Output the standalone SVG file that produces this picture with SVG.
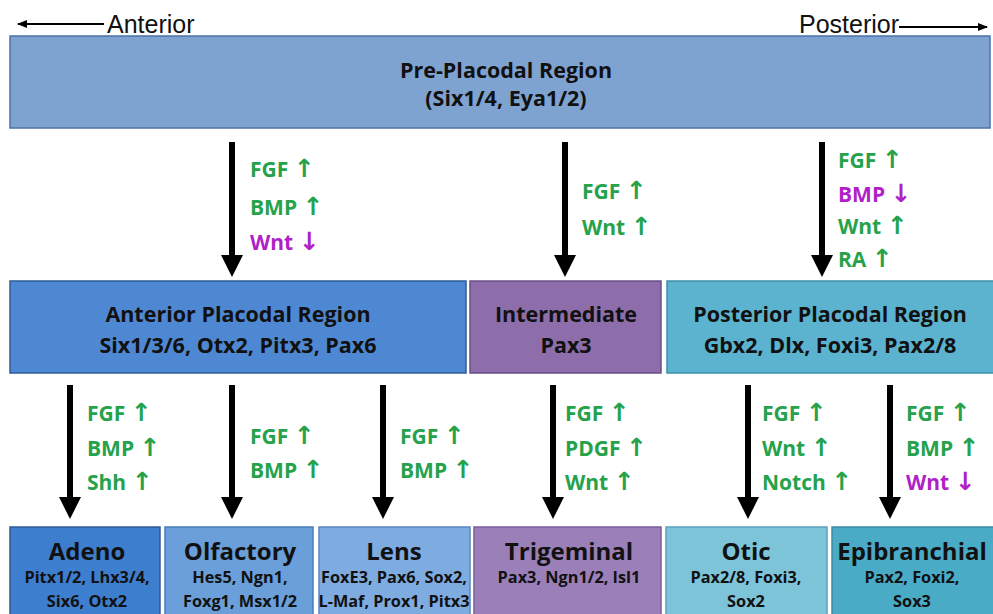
<svg xmlns="http://www.w3.org/2000/svg" width="993" height="614" viewBox="0 0 993 614">
<defs>
<marker id="head" markerUnits="userSpaceOnUse" markerWidth="22" markerHeight="22" refX="0" refY="11" orient="auto"><path d="M0,0 L22,11 L0,22 z" fill="#000"/></marker>
<marker id="thin" markerUnits="userSpaceOnUse" markerWidth="10" markerHeight="8" refX="9" refY="4" orient="auto"><path d="M0,0 L10,4 L0,8 z" fill="#000"/></marker>
<style>
.box{stroke-width:1.5}
.t{font-family:"Open Sans","Liberation Sans",sans-serif;font-weight:bold;fill:#111;text-anchor:middle}
.h{font-size:21.5px}
.big{font-size:24px}
.sm{font-size:16.3px}
.lab{font-family:"Open Sans","Liberation Sans",sans-serif;font-weight:bold;font-size:21px}
.ar{font-family:"DejaVu Sans",sans-serif;font-weight:bold;font-size:25px}
.up{fill:#25A24B}
.dn{fill:#B11FC6}
.ax{font-family:"Liberation Sans",Arial,sans-serif;font-size:25px;fill:#111}
.sh{stroke:#000;stroke-width:6;fill:none;marker-end:url(#head)}
</style>
</defs>
<rect width="993" height="614" fill="#fff"/>
<g id="axis">
<line x1="104" y1="24" x2="18" y2="24" stroke="#000" stroke-width="2" marker-end="url(#thin)"/>
<text class="ax" x="107" y="33">Anterior</text>
<text class="ax" x="799" y="33">Posterior</text>
<line x1="899" y1="27" x2="987" y2="27" stroke="#000" stroke-width="2" marker-end="url(#thin)"/>
</g>
<g id="preplacodal">
<rect class="box" x="10" y="36" width="980" height="92" fill="#7FA3D0" stroke="#4C72A6"/>
<text class="t h" x="506" y="78">Pre-Placodal Region</text>
<text class="t h" x="506" y="106">(Six1/4, Eya1/2)</text>
</g>
<g id="anterior">
<rect class="box" x="10" y="281" width="456" height="92" fill="#4F88D2" stroke="#2E5B93"/>
<text class="t h" x="238" y="322">Anterior Placodal Region</text>
<text class="t h" x="238" y="353">Six1/3/6, Otx2, Pitx3, Pax6</text>
</g>
<g id="intermediate">
<rect class="box" x="470" y="281" width="191" height="92" fill="#8D6EAB" stroke="#6B4F88"/>
<text class="t h" x="566" y="322">Intermediate</text>
<text class="t h" x="566" y="353">Pax3</text>
</g>
<g id="posterior">
<rect class="box" x="667" y="281" width="330" height="92" fill="#5BB3CF" stroke="#3D8FA8"/>
<text class="t h" x="830" y="322">Posterior Placodal Region</text>
<text class="t h" x="830" y="353">Gbx2, Dlx, Foxi3, Pax2/8</text>
</g>
<g id="adeno">
<rect class="box" x="10" y="527" width="150" height="92" fill="#3E7ECE" stroke="#2E5B93"/>
<text class="t big" x="87" y="560">Adeno</text>
<text class="t sm" x="87" y="583">Pitx1/2, Lhx3/4,</text>
<text class="t sm" x="87" y="607">Six6, Otx2</text>
</g>
<g id="olfactory">
<rect class="box" x="165" y="527" width="148" height="92" fill="#6A9FDA" stroke="#4A7DBA"/>
<text class="t big" x="240" y="560">Olfactory</text>
<text class="t sm" x="240" y="583">Hes5, Ngn1,</text>
<text class="t sm" x="240" y="607">Foxg1, Msx1/2</text>
</g>
<g id="lens">
<rect class="box" x="319" y="527" width="151" height="92" fill="#7EABE0" stroke="#5A88C0"/>
<text class="t big" x="394" y="560">Lens</text>
<text class="t sm" x="394" y="583">FoxE3, Pax6, Sox2,</text>
<text class="t sm" x="394" y="607">L-Maf, Prox1, Pitx3</text>
</g>
<g id="trigeminal">
<rect class="box" x="474" y="527" width="187" height="92" fill="#9B7FB9" stroke="#7A5E98"/>
<text class="t big" x="569" y="560">Trigeminal</text>
<text class="t sm" x="569" y="583">Pax3, Ngn1/2, Isl1</text>
</g>
<g id="otic">
<rect class="box" x="666" y="527" width="161" height="92" fill="#7DC4D9" stroke="#5AA3BA"/>
<text class="t big" x="746" y="560">Otic</text>
<text class="t sm" x="746" y="583">Pax2/8, Foxi3,</text>
<text class="t sm" x="746" y="607">Sox2</text>
</g>
<g id="epibranchial">
<rect class="box" x="832" y="527" width="165" height="92" fill="#4AABC6" stroke="#3A8CA5"/>
<text class="t big" x="912" y="560">Epibranchial</text>
<text class="t sm" x="912" y="583">Pax2, Foxi2,</text>
<text class="t sm" x="912" y="607">Sox3</text>
</g>
<g id="connectors">
<line class="sh" x1="232" y1="142" x2="232" y2="255"/>
<line class="sh" x1="565" y1="142" x2="565" y2="255"/>
<line class="sh" x1="822" y1="142" x2="822" y2="255"/>
<line class="sh" x1="70" y1="385" x2="70" y2="497"/>
<line class="sh" x1="232" y1="385" x2="232" y2="497"/>
<line class="sh" x1="383" y1="385" x2="383" y2="497"/>
<line class="sh" x1="553" y1="385" x2="553" y2="497"/>
<line class="sh" x1="748" y1="385" x2="748" y2="497"/>
<line class="sh" x1="890" y1="385" x2="890" y2="497"/>
</g>
<g id="labels" class="lab">
<text class="up" x="250" y="177">FGF <tspan class="ar">↑</tspan></text>
<text class="up" x="250" y="215">BMP <tspan class="ar">↑</tspan></text>
<text class="dn" x="250" y="250">Wnt <tspan class="ar">↓</tspan></text>
<text class="up" x="582" y="199">FGF <tspan class="ar">↑</tspan></text>
<text class="up" x="582" y="235">Wnt <tspan class="ar">↑</tspan></text>
<text class="up" x="838" y="168">FGF <tspan class="ar">↑</tspan></text>
<text class="dn" x="838" y="202">BMP <tspan class="ar">↓</tspan></text>
<text class="up" x="838" y="234">Wnt <tspan class="ar">↑</tspan></text>
<text class="up" x="838" y="267">RA <tspan class="ar">↑</tspan></text>
<text class="up" x="87" y="421">FGF <tspan class="ar">↑</tspan></text>
<text class="up" x="87" y="456">BMP <tspan class="ar">↑</tspan></text>
<text class="up" x="87" y="490">Shh <tspan class="ar">↑</tspan></text>
<text class="up" x="250" y="444">FGF <tspan class="ar">↑</tspan></text>
<text class="up" x="250" y="478">BMP <tspan class="ar">↑</tspan></text>
<text class="up" x="400" y="444">FGF <tspan class="ar">↑</tspan></text>
<text class="up" x="400" y="478">BMP <tspan class="ar">↑</tspan></text>
<text class="up" x="565" y="421">FGF <tspan class="ar">↑</tspan></text>
<text class="up" x="565" y="456">PDGF <tspan class="ar">↑</tspan></text>
<text class="up" x="565" y="490">Wnt <tspan class="ar">↑</tspan></text>
<text class="up" x="762" y="421">FGF <tspan class="ar">↑</tspan></text>
<text class="up" x="762" y="456">Wnt <tspan class="ar">↑</tspan></text>
<text class="up" x="762" y="490">Notch <tspan class="ar">↑</tspan></text>
<text class="up" x="906" y="421">FGF <tspan class="ar">↑</tspan></text>
<text class="up" x="906" y="456">BMP <tspan class="ar">↑</tspan></text>
<text class="dn" x="906" y="490">Wnt <tspan class="ar">↓</tspan></text>
</g>
</svg>
